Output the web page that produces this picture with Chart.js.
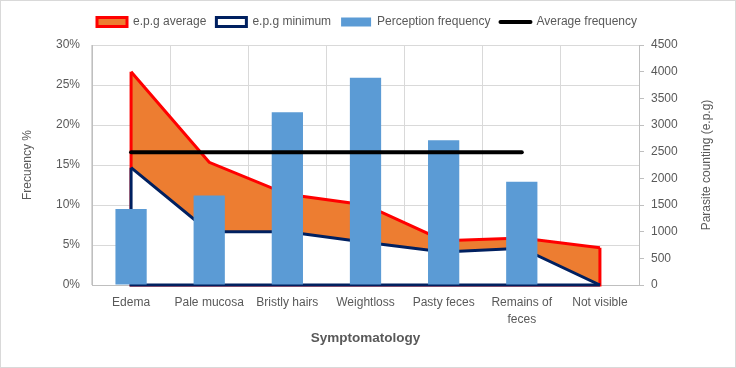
<!DOCTYPE html>
<html>
<head>
<meta charset="utf-8">
<title>Symptomatology</title>
<script src="https://cdn.jsdelivr.net/npm/chart.js@4.4.1/dist/chart.umd.min.js"></script>
<style>
  html, body { margin: 0; padding: 0; background: #fff; }
  #wrap { width: 736px; height: 368px; }
</style>
</head>
<body>
<div id="wrap"><canvas id="grafica" width="736" height="368"></canvas></div>
<script>
const categorias = ["Edema", "Pale mucosa", "Bristly hairs", "Weightloss", "Pasty feces", ["Remains of", "feces"], "Not visible"];
const epgPromedio = [4000, 2300, 1700, 1500, 830, 880, 700];
const epgMinimo = [2200, 1000, 1000, 800, 620, 690, 0];
const frecuenciaPercepcion = [9.5, 11.2, 21.6, 25.9, 18.1, 12.9, 0];
const frecuenciaPromedio = [16.6, 16.6, 16.6, 16.6, 16.6, 16.6, null];
const ticksIzq = [0, 5, 10, 15, 20, 25, 30];
const ticksDer = [0, 500, 1000, 1500, 2000, 2500, 3000, 3500, 4000, 4500];
const tituloDer = "Parasite counting (e.p.g)";

const gris = "#595959";
const fuente = "'Liberation Sans', Arial, sans-serif";

// fondo blanco, marco gris y titulo del eje derecho (leido de abajo hacia arriba)
const marco = {
  id: "marco",
  beforeDraw(chart) {
    const c = chart.ctx;
    c.save();
    c.fillStyle = "#fff";
    c.fillRect(0, 0, chart.width, chart.height);
    c.strokeStyle = "#d9d9d9";
    c.lineWidth = 1;
    c.strokeRect(0.5, 0.5, chart.width - 1, chart.height - 1);
    c.restore();
  },
  afterDraw(chart) {
    const s = chart.scales.yDer;
    const c = chart.ctx;
    c.save();
    c.translate(s.right - 11, (chart.chartArea.top + chart.chartArea.bottom) / 2);
    c.rotate(-Math.PI / 2);
    c.fillStyle = gris;
    c.font = "12px " + fuente;
    c.textAlign = "center";
    c.textBaseline = "middle";
    c.fillText(tituloDer, 0, 0);
    c.restore();
  },
  beforeLayout(chart) {
    // un poco mas de espacio bajo la leyenda
    const ley = chart.legend;
    if (ley && !ley._parcheado) {
      const fit = ley.fit;
      ley.fit = function () { fit.call(this); this.height += 7; };
      ley._parcheado = true;
    }
  }
};

// bordes laterales e inferior de las areas (como en Excel)
const bordesArea = {
  id: "bordesArea",
  afterDatasetDraw(chart, args) {
    const ds = chart.data.datasets[args.index];
    if (!ds.bordes) return;
    const pts = args.meta.data;
    const a = pts[0], b = pts[pts.length - 1];
    const y0 = chart.scales[ds.yAxisID].getPixelForValue(0);
    const c = chart.ctx;
    c.save();
    c.strokeStyle = ds.borderColor;
    c.lineWidth = ds.borderWidth;
    c.lineJoin = "miter";
    c.beginPath();
    c.moveTo(a.x, a.y);
    c.lineTo(a.x, y0);
    c.lineTo(b.x, y0);
    c.lineTo(b.x, b.y);
    c.stroke();
    c.restore();
  }
};

const estilos = ["rect", "rect", "rect", "line"];

new Chart(document.getElementById("grafica"), {
  type: "bar",
  data: {
    labels: categorias,
    datasets: [
      {
        type: "line",
        label: "e.p.g average",
        data: epgPromedio,
        yAxisID: "yDer",
        borderColor: "#ff0000",
        backgroundColor: "#ed7d31",
        borderWidth: 3,
        fill: "origin",
        tension: 0,
        pointRadius: 0,
        pointHoverRadius: 0,
        bordes: true,
        order: 4
      },
      {
        type: "line",
        label: "e.p.g minimum",
        data: epgMinimo,
        yAxisID: "yDer",
        borderColor: "#002060",
        backgroundColor: "#ffffff",
        borderWidth: 3,
        fill: "origin",
        tension: 0,
        pointRadius: 0,
        pointHoverRadius: 0,
        bordes: true,
        order: 3
      },
      {
        label: "Perception frequency",
        data: frecuenciaPercepcion,
        yAxisID: "y",
        backgroundColor: "#5b9bd5",
        borderWidth: 0,
        barPercentage: 0.4,
        categoryPercentage: 1,
        order: 2
      },
      {
        type: "line",
        label: "Average frequency",
        data: frecuenciaPromedio,
        yAxisID: "y",
        borderColor: "#000000",
        backgroundColor: "#000000",
        borderWidth: 4,
        borderCapStyle: "round",
        fill: false,
        pointRadius: 0,
        pointHoverRadius: 0,
        order: 1
      }
    ]
  },
  options: {
    responsive: false,
    animation: false,
    layout: { padding: { left: 16, right: 18, top: 6, bottom: 18 } },
    plugins: {
      tooltip: { enabled: false },
      legend: {
        position: "top",
        labels: {
          color: gris,
          font: { family: fuente, size: 12 },
          usePointStyle: true,
          pointStyleWidth: 30,
          boxHeight: 9,
          padding: 10,
          generateLabels(chart) {
            const items = Chart.defaults.plugins.legend.labels.generateLabels(chart);
            items.forEach(it => {
              const ds = chart.data.datasets[it.datasetIndex];
              it.pointStyle = estilos[it.datasetIndex];
              it.fillStyle = ds.backgroundColor;
              it.strokeStyle = ds.borderColor || ds.backgroundColor;
              it.lineWidth = ds.type === "line" ? ds.borderWidth : 0;
              it.lineCap = it.pointStyle === "line" ? "round" : "butt";
            });
            return items.sort((a, b) => a.datasetIndex - b.datasetIndex);
          }
        }
      }
    },
    scales: {
      x: {
        grid: { color: "#d9d9d9", drawTicks: false, offset: true },
        border: { color: "#bfbfbf" },
        ticks: {
          color: gris,
          font: { family: fuente, size: 12, lineHeight: 1.35 },
          padding: 10,
          maxRotation: 0,
          autoSkip: false
        },
        title: {
          display: true,
          text: "Symptomatology",
          color: gris,
          font: { family: fuente, size: 13.5, weight: "bold" },
          padding: { top: 4, bottom: 4 }
        },
        afterFit(s) { s.height = 65; }
      },
      y: {
        position: "left",
        min: 0,
        max: 30,
        afterBuildTicks(s) { s.ticks = ticksIzq.map(v => ({ value: v })); },
        grid: { color: "#d9d9d9", drawTicks: false },
        border: { color: "#bfbfbf" },
        ticks: {
          color: gris,
          font: { family: fuente, size: 12 },
          padding: 12,
          callback: v => v + "%"
        },
        title: {
          display: true,
          text: "Frecuency %",
          color: gris,
          font: { family: fuente, size: 12 },
          padding: { top: 4, bottom: 4 }
        },
        afterFit(s) { s.width = 76; }
      },
      yDer: {
        position: "right",
        min: 0,
        max: 4500,
        afterBuildTicks(s) { s.ticks = ticksDer.map(v => ({ value: v })); },
        grid: { drawOnChartArea: false, drawTicks: true, tickLength: 5, color: "#bfbfbf" },
        border: { color: "#bfbfbf" },
        ticks: {
          color: gris,
          font: { family: fuente, size: 12 },
          padding: 7,
          callback: v => String(v)
        },
        afterFit(s) { s.width = 79; }
      }
    }
  },
  plugins: [marco, bordesArea]
});
</script>
</body>
</html>
